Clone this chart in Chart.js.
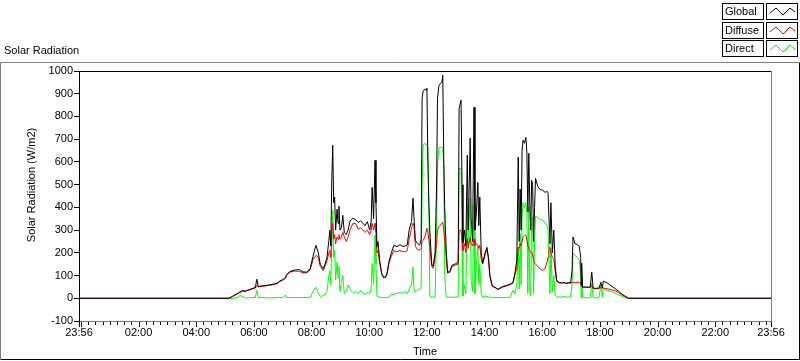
<!DOCTYPE html>
<html>
<head>
<meta charset="utf-8">
<title>Solar Radiation</title>
<script src="https://cdn.jsdelivr.net/npm/chart.js@4.4.1/dist/chart.umd.min.js"></script>
<style>
  html, body { margin: 0; padding: 0; background: #fff; }
  body { width: 800px; height: 361px; position: relative; overflow: hidden;
         font-family: 'Liberation Sans', Arial, sans-serif; font-size: 11px; color: #000; }
  #chart { position: absolute; left: 0; top: 0; }
  .title { position: absolute; left: 4px; top: 44px; }
  .legend { position: absolute; left: 722px; top: 3px; }
  .legend .row { position: relative; height: 17px; margin-bottom: 1.5px; }
  .legend .name { position: absolute; left: 0; top: 0; width: 38px; height: 15px;
                  border: 1px solid #000; line-height: 15px; padding-left: 2px; box-sizing: content-box; }
  .legend .swatch { position: absolute; left: 44px; top: 0; width: 30px; height: 15px; border: 1px solid #000; }
</style>
</head>
<body>
<canvas id="chart" width="800" height="361"></canvas>
<div class="title">Solar Radiation</div>
<div class="legend" id="legend"></div>
<script>
// ============================================
// Solar radiation chart (LabVIEW-style waveform graph)
// ============================================

// time of day in minutes since midnight (-4 = 23:56 of the day before)
const times = [
  -4, 308, 315, 325, 331, 336, 342, 350, 358, 363, 366, 369, 379, 390, 400, 408, 414, 420, 426, 428,
  435, 445, 455, 462, 470, 477, 483, 489, 494, 498, 504, 508, 512, 516, 518, 520, 522, 524, 526, 528,
  530, 533, 535, 537, 539, 542, 545, 548, 552, 556, 560, 566, 572, 577, 582, 587, 591, 596, 601, 604,
  606, 609, 612, 614, 616, 618, 622, 626, 630, 634, 637, 641, 646, 651, 654, 658, 664, 670, 675, 679,
  683, 688, 691, 693, 696, 700, 705, 708, 710, 712, 715, 718, 720, 722, 724, 726, 730, 733, 737, 740,
  742, 745, 748, 751, 753, 755, 757, 760, 763, 768, 772, 778, 785, 787, 791, 793, 795, 798, 801, 804,
  806, 810, 812, 815, 818, 820, 823, 826, 828, 830, 833, 836, 841, 845, 848, 851, 856, 862, 868, 876,
  885, 893, 899, 903, 907, 910, 912, 914, 916, 918, 920, 923, 926, 928, 930, 932, 934, 936, 938, 940,
  942, 944, 946, 951, 956, 961, 966, 970, 972, 974, 976, 978, 981, 984, 987, 990, 995, 1000, 1005, 1010,
  1015, 1019, 1022, 1024, 1028, 1033, 1037, 1040, 1041, 1042, 1044, 1050, 1056, 1060, 1063, 1066, 1072, 1078, 1082, 1085,
  1087, 1095, 1103, 1110, 1118, 1126, 1132, 1139, 1436
];

const globalVals = [
  0, 0, 8, 20, 28, 34, 32, 38, 44, 48, 84, 52, 55, 58, 62, 66, 76, 82, 92, 104,
  118, 124, 126, 116, 115, 130, 185, 233, 200, 150, 130, 150, 180, 255, 299, 230, 520, 673, 420, 445,
  300, 392, 330, 405, 300, 310, 365, 290, 280, 300, 340, 352, 345, 334, 340, 330, 320, 337, 300, 340,
  488, 350, 607, 420, 225, 250, 161, 110, 92, 95, 110, 161, 200, 232, 230, 228, 235, 228, 230, 235,
  300, 338, 440, 360, 254, 242, 234, 260, 880, 910, 920, 915, 925, 598, 420, 300, 150, 140, 202, 480,
  880, 935, 945, 950, 981, 616, 400, 220, 114, 120, 145, 150, 158, 836, 871, 500, 246, 300, 230, 629,
  300, 704, 350, 250, 840, 300, 380, 510, 320, 445, 200, 154, 200, 224, 180, 100, 55, 48, 40, 50,
  56, 62, 70, 110, 167, 621, 250, 480, 300, 650, 695, 682, 708, 638, 380, 638, 420, 300, 519, 500,
  250, 400, 528, 490, 478, 475, 466, 470, 466, 466, 240, 420, 200, 300, 140, 79, 70, 68, 70, 66,
  70, 68, 120, 270, 240, 236, 229, 180, 57, 154, 49, 50, 49, 50, 115, 44, 44, 45, 70, 45,
  75, 68, 55, 45, 32, 18, 10, 0, 0
];

const diffuseVals = [
  0, 0, 8, 19, 26, 30, 30, 36, 42, 45, 56, 50, 53, 56, 60, 64, 74, 80, 88, 100,
  115, 120, 118, 112, 112, 125, 170, 189, 180, 140, 122, 140, 165, 200, 210, 180, 290, 330, 260, 280,
  240, 270, 260, 280, 260, 268, 290, 270, 250, 270, 300, 330, 328, 304, 310, 300, 290, 300, 280, 300,
  330, 300, 330, 290, 200, 210, 150, 105, 90, 92, 105, 155, 185, 210, 205, 205, 210, 205, 205, 210,
  260, 308, 330, 320, 230, 215, 212, 220, 250, 255, 265, 290, 308, 290, 260, 230, 140, 132, 180, 240,
  300, 315, 322, 330, 334, 300, 260, 180, 110, 114, 140, 145, 150, 299, 299, 250, 210, 240, 200, 260,
  220, 270, 240, 230, 260, 230, 240, 233, 220, 233, 170, 150, 190, 215, 175, 95, 52, 46, 38, 48,
  54, 60, 66, 100, 132, 224, 220, 240, 230, 250, 270, 277, 277, 260, 230, 220, 210, 202, 202, 190,
  170, 154, 150, 140, 128, 123, 130, 160, 180, 215, 224, 200, 180, 170, 120, 75, 68, 66, 68, 64,
  66, 66, 70, 70, 68, 70, 70, 68, 55, 60, 48, 48, 47, 48, 55, 42, 42, 42, 50, 42,
  45, 42, 38, 34, 26, 14, 8, 0, 0
];

const directVals = [
  0, 0, 0, 2, 12, 8, 2, 2, 3, 4, 35, 4, 3, 2, 2, 3, 4, 3, 14, 3,
  3, 3, 3, 3, 3, 5, 30, 48, 22, 8, 12, 18, 30, 101, 120, 60, 230, 387, 180, 210,
  80, 158, 90, 140, 30, 73, 100, 22, 30, 58, 40, 25, 30, 20, 35, 20, 18, 25, 20, 45,
  154, 60, 277, 150, 10, 7, 5, 4, 3, 4, 4, 5, 20, 15, 22, 20, 25, 22, 30, 20,
  40, 60, 138, 40, 25, 35, 40, 50, 484, 670, 682, 675, 680, 660, 414, 10, 5, 5, 8, 300,
  585, 664, 664, 664, 660, 590, 100, 8, 5, 4, 5, 5, 6, 572, 572, 230, 10, 60, 20, 409,
  233, 440, 80, 30, 411, 20, 150, 230, 60, 150, 20, 5, 10, 8, 6, 5, 4, 3, 4, 3,
  3, 5, 35, 20, 60, 225, 40, 286, 60, 350, 422, 400, 422, 380, 20, 402, 30, 10, 356, 356,
  20, 250, 360, 355, 345, 345, 330, 320, 299, 299, 20, 220, 30, 100, 10, 5, 6, 5, 8, 5,
  6, 5, 60, 198, 190, 178, 167, 100, 2, 100, 2, 3, 2, 3, 66, 3, 2, 2, 60, 4,
  40, 35, 30, 25, 15, 8, 2, 0, 0
];

// x axis: labelled positions (minutes) and their text
const xLabelValues = [-4, 120, 240, 360, 480, 600, 720, 840, 960, 1080, 1200, 1320, 1436];
const xLabelTexts = ['23:56', '02:00', '04:00', '06:00', '08:00', '10:00', '12:00',
                     '14:00', '16:00', '18:00', '20:00', '22:00', '23:56'];

const seriesNames = ['Global', 'Diffuse', 'Direct'];
const seriesColors = ['#000000', '#ff0000', '#00ff00'];

const FONT = "'Liberation Sans', Arial, sans-serif";

// Legend (boxed names + line samples)
const legendEl = document.getElementById('legend');
seriesNames.forEach((name, i) => {
  const row = document.createElement('div');
  row.className = 'row';
  row.innerHTML = '<div class="name">' + name + '</div>' +
    '<div class="swatch"><svg width="30" height="15"><polyline points="3,9 9,4 16,11 23,4 28,8" ' +
    'fill="none" stroke="' + seriesColors[i] + '" stroke-width="1"/></svg></div>';
  legendEl.appendChild(row);
});

const toPoints = vals => times.map((t, i) => ({ x: t, y: vals[i] }));

// frame, plot border, minor/major time ticks, y title
const framePlugin = {
  id: 'frame',
  beforeDraw(chart) {
    const c = chart.ctx;
    c.save();
    c.fillStyle = '#ffffff';
    c.fillRect(0, 62, 800, 299);
    c.lineWidth = 1;
    c.strokeStyle = '#808080';
    c.beginPath();
    c.moveTo(0.5, 360); c.lineTo(0.5, 62.5); c.lineTo(799, 62.5);
    c.stroke();
    c.strokeStyle = '#000000';
    c.beginPath();
    c.moveTo(1, 359.5); c.lineTo(799.5, 359.5); c.lineTo(799.5, 62.5);
    c.stroke();
    c.restore();
  },
  afterDraw(chart) {
    const c = chart.ctx;
    const a = chart.chartArea;
    const xs = chart.scales.x;
    c.save();
    c.lineWidth = 1;
    // top border black, right border gray
    c.strokeStyle = '#000000';
    c.beginPath();
    c.moveTo(a.left, a.top + 0.5); c.lineTo(a.right, a.top + 0.5);
    c.stroke();
    c.strokeStyle = '#808080';
    c.beginPath();
    c.moveTo(a.right + 0.5, a.top); c.lineTo(a.right + 0.5, a.bottom + 1);
    c.stroke();
    // time ticks
    c.strokeStyle = '#000000';
    xs.ticks.forEach(t => {
      const px = Math.round(xs.getPixelForValue(t.value)) + 0.5;
      const major = t.value % 120 === 0 || xLabelValues.includes(t.value);
      c.beginPath();
      c.moveTo(px, a.bottom + 1);
      c.lineTo(px, a.bottom + (major ? 6 : 4));
      c.stroke();
    });
    // y axis title
    c.font = '11px ' + FONT;
    c.fillStyle = '#000000';
    c.textAlign = 'center';
    c.textBaseline = 'middle';
    c.translate(32, 185);
    c.rotate(-Math.PI / 2);
    c.fillText('Solar Radiation (W/m2)', 0, 0);
    c.restore();
  }
};

new Chart(document.getElementById('chart'), {
  type: 'line',
  data: {
    datasets: seriesNames.map((name, i) => ({
      label: name,
      data: toPoints([globalVals, diffuseVals, directVals][i]),
      borderColor: seriesColors[i],
      backgroundColor: seriesColors[i],
      borderWidth: 1,
      pointRadius: 0,
      tension: 0,
      fill: false,
      order: i + 1   // Global drawn last, on top
    }))
  },
  options: {
    responsive: false,
    animation: false,
    layout: { padding: { left: 0, top: 71, right: 29, bottom: 0 } },
    plugins: {
      legend: { display: false },
      tooltip: { enabled: false }
    },
    scales: {
      x: {
        type: 'linear',
        min: -4,
        max: 1436,
        afterFit(scale) { scale.height = 40; },
        afterBuildTicks(scale) {
          const ticks = [{ value: -4 }];
          for (let m = 0; m <= 1425; m += 15) ticks.push({ value: m });
          ticks.push({ value: 1436 });
          scale.ticks = ticks;
        },
        grid: { display: false, drawTicks: false },
        border: { display: true, color: '#808080', width: 1 },
        ticks: {
          autoSkip: false,
          maxRotation: 0,
          padding: 5,
          color: '#000000',
          font: { family: FONT, size: 11 },
          callback(value) {
            const k = xLabelValues.indexOf(value);
            return k >= 0 ? xLabelTexts[k] : '';
          }
        },
        title: {
          display: true,
          text: 'Time',
          color: '#000000',
          font: { family: FONT, size: 11 },
          padding: { top: 0, bottom: 2 }
        }
      },
      y: {
        min: -100,
        max: 1000,
        afterFit(scale) { scale.width = 79; },
        grid: { drawOnChartArea: false, drawTicks: true, tickLength: 5, color: '#000000' },
        border: { display: true, color: '#000000', width: 1 },
        ticks: {
          stepSize: 100,
          padding: 1,
          color: '#000000',
          font: { family: FONT, size: 11 },
          callback: value => String(value)
        }
      }
    }
  },
  plugins: [framePlugin]
});
</script>
</body>
</html>
